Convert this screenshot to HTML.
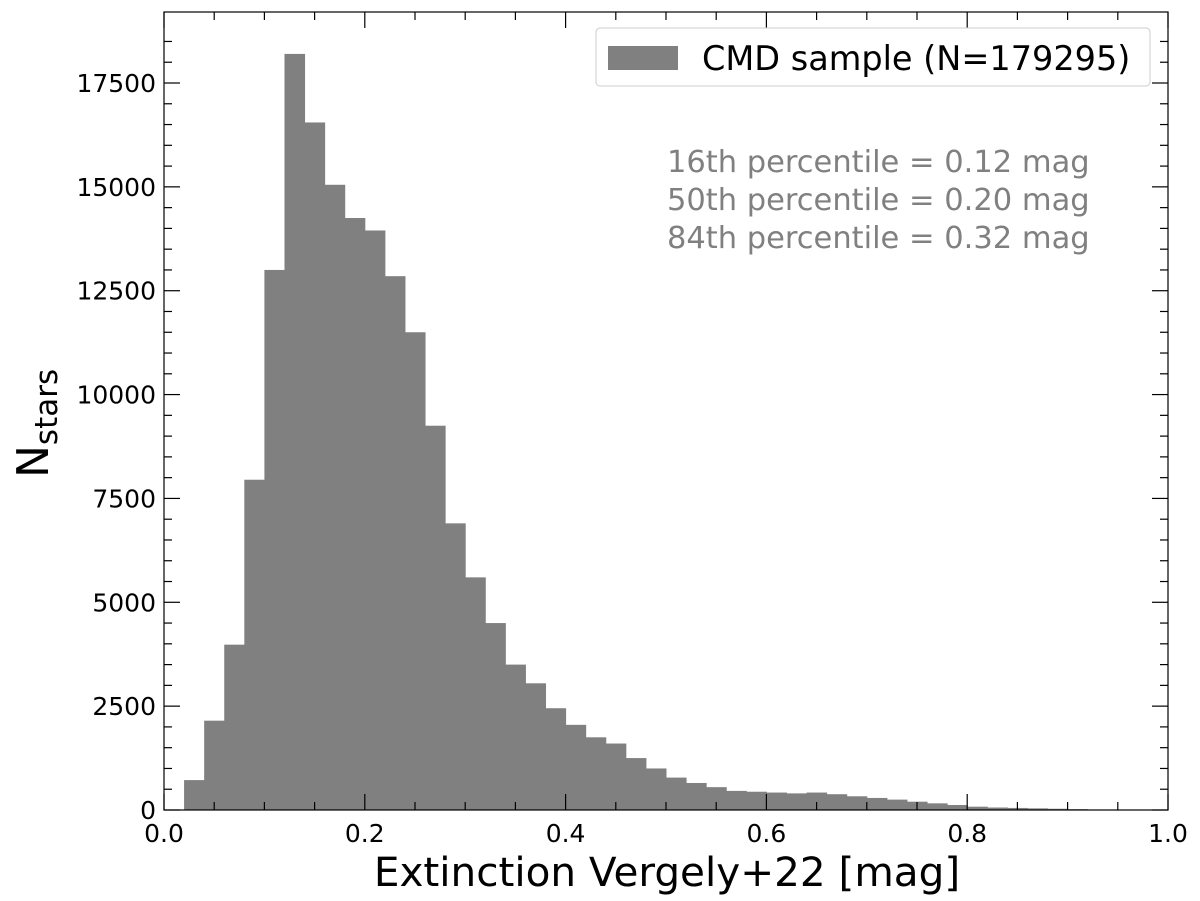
<!DOCTYPE html>
<html><head><meta charset="utf-8"><style>body{margin:0;background:#fff}svg{display:block;font-family:"DejaVu Sans","Liberation Sans",sans-serif}</style></head>
<body>
<svg id="c" width="1200" height="901"></svg>
<script>
const binStarts=[0,0.02,0.04,0.06,0.08,0.10,0.12,0.14,0.16,0.18,0.20,0.22,0.24,0.26,0.28,0.30,0.32,0.34,0.36,0.38,0.40,0.42,0.44,0.46,0.48,0.50,0.52,0.54,0.56,0.58,0.60,0.62,0.64,0.66,0.68,0.70,0.72,0.74,0.76,0.78,0.80,0.82,0.84,0.86,0.88,0.90,0.92,0.94,0.96,0.98];
const counts=[0,720,2150,3980,7950,13000,18200,16550,15050,14250,13950,12850,11500,9250,6900,5600,4500,3500,3050,2450,2050,1750,1600,1250,1000,780,650,550,460,440,420,400,420,380,330,290,250,200,160,120,80,60,50,40,30,20,12,6,3,0];
const xTicks=[0,0.2,0.4,0.6,0.8,1.0];
const xTickLabels=["0.0","0.2","0.4","0.6","0.8","1.0"];
const yTicks=[0,2500,5000,7500,10000,12500,15000,17500];
const binWidth=0.02;
const L=164,R=1168,T=12,B=810;
const X=v=>L+v*(R-L);
const Y=v=>B-v*(B-83)/17500;
const svg=document.getElementById('c');
const NS='http://www.w3.org/2000/svg';
function mk(t,a,txt){const e=document.createElementNS(NS,t);for(const k in a)e.setAttribute(k,a[k]);if(txt!=null)e.textContent=txt;svg.appendChild(e);return e;}
counts.forEach((c,i)=>{if(c<=0)return;const x0=X(binStarts[i]),x1=X(binStarts[i]+binWidth);
const r=mk('rect',{x:x0,y:Y(c),width:x1-x0+0.5,height:B-Y(c),fill:'#808080'});

});
const fr=mk('rect',{x:L,y:T,width:R-L,height:B-T,fill:'none',stroke:'#000','stroke-width':1.2});

for(let v=0;v<=1.0001;v+=0.05){const x=X(v),maj=Math.abs(v*5-Math.round(v*5))<1e-6,len=maj?16:8;
mk('line',{x1:x,y1:B,x2:x,y2:B-len,stroke:'#000','stroke-width':1.2});mk('line',{x1:x,y1:T,x2:x,y2:T+len,stroke:'#000','stroke-width':1.2});}
for(let v=0;v<=18500;v+=500){const y=Y(v);if(y<T)break;const maj=v%2500===0,len=maj?16:8;
mk('line',{x1:L,y1:y,x2:L+len,y2:y,stroke:'#000','stroke-width':1.2});mk('line',{x1:R,y1:y,x2:R-len,y2:y,stroke:'#000','stroke-width':1.2});}
xTicks.forEach((v,i)=>{const t=mk('text',{x:X(v),y:842,'font-size':25,'text-anchor':'middle'},xTickLabels[i]);
});
yTicks.forEach(v=>{const t=mk('text',{x:L-8,y:Y(v)+9,'font-size':25,'text-anchor':'end'},String(v));
});
const xt=mk('text',{x:667,y:886,'font-size':40.5,'text-anchor':'middle'},'Extinction Vergely+22 [mag]');

const yt=mk('text',{transform:'translate(48,478) rotate(-90)','font-size':44},'');

yt.innerHTML='N<tspan font-size="31" dy="9">stars</tspan>';
const lb=mk('rect',{x:596,y:28,width:554,height:58,fill:'#fff',stroke:'#ccc','stroke-width':1,rx:4});

const ls=mk('rect',{x:608,y:46,width:70,height:24,fill:'#808080'});

const lt=mk('text',{x:702,y:70,'font-size':33.5},'CMD sample (N=179295)');

['16th percentile = 0.12 mag','50th percentile = 0.20 mag','84th percentile = 0.32 mag'].forEach((s,i)=>{
const t=mk('text',{x:667,y:172+i*38,'font-size':30.5,fill:'#808080'},s);
});
</script>
</body></html>
